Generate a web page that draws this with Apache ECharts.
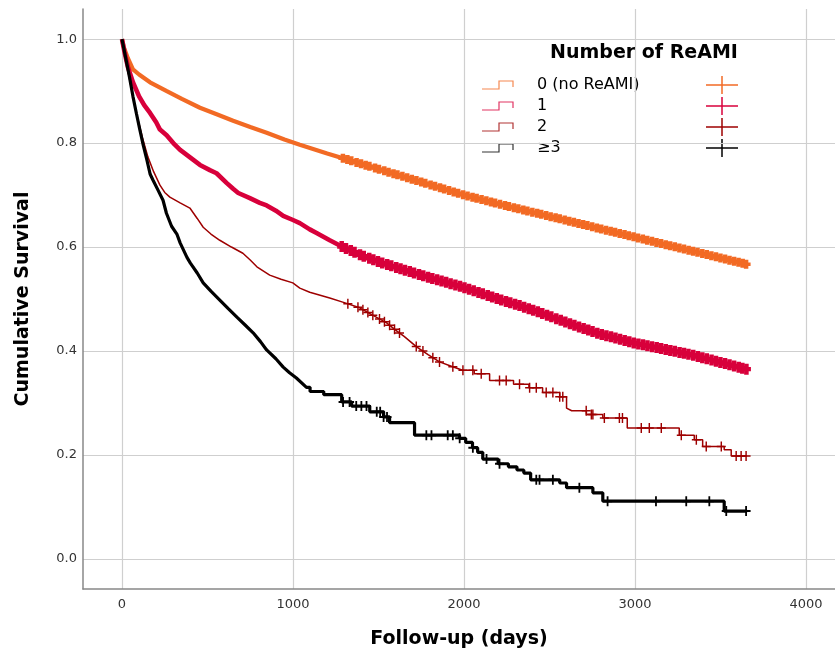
<!DOCTYPE html>
<html>
<head>
<meta charset="utf-8">
<title>Cumulative Survival by Number of ReAMI</title>
<script src="https://cdn.jsdelivr.net/npm/echarts@6/dist/echarts.min.js"></script>
<style>
  html, body { margin: 0; padding: 0; background: #fff; }
  #chart { width: 835px; height: 657px; }
</style>
</head>
<body>
<div id="chart"></div>
<script>
// tick labels
var xTicks = [0, 1000, 2000, 3000, 4000];
var yTicks = [0, 0.2, 0.4, 0.6, 0.8, 1.0];

var groupNames = ['0 (no ReAMI)', '1', '2', '\u22653'];

// curves are listed as vertices (repeated time = vertical drop)

// group 0 (no ReAMI)
var times0 = [0, 10, 35, 64, 100, 164, 262, 350, 456, 550, 650, 750, 846, 950, 1040, 1200, 1400, 1600, 1800, 2000, 2200, 2400, 2600, 2800, 3000, 3200, 3400, 3650];
var surv0  = [1.0, 0.985, 0.963, 0.942, 0.932, 0.917, 0.900, 0.885, 0.868, 0.856, 0.843, 0.831, 0.820, 0.807, 0.797, 0.780, 0.760, 0.740, 0.720, 0.700, 0.683, 0.667, 0.651, 0.635, 0.619, 0.603, 0.587, 0.567];
var cens0  = [1292, 1318, 1341, 1372, 1398, 1425, 1447, 1480, 1503, 1534, 1559, 1588, 1611, 1640, 1668, 1695, 1722, 1750, 1774, 1805, 1831, 1860, 1884, 1913, 1940, 1966, 1995, 2021, 2050, 2074, 2103, 2131, 2158, 2182, 2211, 2240, 2263, 2292, 2318, 2347, 2371, 2400, 2428, 2452, 2481, 2507, 2536, 2560, 2589, 2616, 2643, 2670, 2697, 2722, 2750, 2777, 2803, 2831, 2858, 2884, 2911, 2939, 2964, 2992, 3018, 3046, 3072, 3100, 3126, 3153, 3180, 3206, 3233, 3260, 3287, 3314, 3340, 3366, 3394, 3420, 3447, 3474, 3500, 3527, 3553, 3580, 3606, 3630, 3650];

// group 1
var times1 = [0, 15, 35, 64, 100, 130, 164, 200, 222, 261, 300, 340, 400, 456, 514, 553, 613, 650, 680, 748, 806, 846, 900, 943, 1000, 1040, 1098, 1138, 1215, 1291, 1333, 1400, 1525, 1650, 1800, 1992, 2100, 2200, 2300, 2401, 2558, 2675, 2800, 2900, 2997, 3150, 3337, 3500, 3650];
var surv1  = [1.0, 0.975, 0.946, 0.917, 0.890, 0.873, 0.858, 0.840, 0.826, 0.815, 0.800, 0.787, 0.772, 0.758, 0.748, 0.742, 0.723, 0.712, 0.704, 0.694, 0.685, 0.680, 0.670, 0.660, 0.652, 0.646, 0.634, 0.627, 0.613, 0.600, 0.594, 0.584, 0.569, 0.556, 0.541, 0.523, 0.511, 0.500, 0.490, 0.479, 0.460, 0.446, 0.432, 0.424, 0.415, 0.405, 0.392, 0.378, 0.365];
var cens1  = [1285, 1310, 1338, 1360, 1392, 1414, 1446, 1470, 1497, 1522, 1551, 1575, 1604, 1629, 1655, 1683, 1708, 1737, 1762, 1790, 1815, 1843, 1869, 1896, 1922, 1950, 1977, 2003, 2030, 2057, 2085, 2110, 2139, 2165, 2192, 2218, 2246, 2271, 2299, 2325, 2352, 2379, 2405, 2432, 2458, 2486, 2511, 2540, 2566, 2593, 2620, 2646, 2673, 2700, 2727, 2752, 2780, 2806, 2833, 2860, 2886, 2913, 2940, 2967, 2993, 3020, 3047, 3073, 3100, 3127, 3153, 3180, 3207, 3233, 3261, 3287, 3313, 3341, 3368, 3394, 3420, 3448, 3474, 3500, 3527, 3553, 3580, 3607, 3628, 3652];

// group 2
var times2 = [0, 20, 40, 64, 90, 120, 152, 185, 222, 250, 280, 340, 397, 440, 475, 520, 572, 640, 707, 750, 789, 864, 930, 999, 1040, 1098, 1215, 1291, 1390, 1460, 1548, 1600, 1650, 1723, 1790, 1857, 1930, 1992,
              2060, 2060, 2150, 2150, 2290, 2290, 2380, 2380, 2460, 2460, 2560, 2560, 2600, 2600, 2630, 2716, 2716, 2812, 2812, 2955, 2955, 3259, 3259, 3347, 3347, 3396, 3396, 3522, 3522, 3563, 3563, 3656];
var surv2  = [1.0, 0.965, 0.930, 0.890, 0.850, 0.810, 0.773, 0.745, 0.719, 0.705, 0.696, 0.685, 0.675, 0.655, 0.638, 0.625, 0.613, 0.600, 0.588, 0.575, 0.562, 0.546, 0.538, 0.531, 0.521, 0.513, 0.502, 0.494, 0.483, 0.470, 0.454, 0.440, 0.428, 0.408, 0.393, 0.379, 0.370, 0.363,
              0.363, 0.356, 0.356, 0.343, 0.343, 0.336, 0.336, 0.329, 0.329, 0.320, 0.320, 0.312, 0.312, 0.290, 0.285, 0.285, 0.278, 0.278, 0.271, 0.271, 0.252, 0.252, 0.238, 0.238, 0.229, 0.229, 0.216, 0.216, 0.210, 0.210, 0.198, 0.198];
var cens2  = [1321, 1380, 1409, 1438, 1467, 1506, 1535, 1565, 1594, 1623, 1721, 1760, 1818, 1857, 1935, 1994, 2052, 2101, 2208, 2247, 2325, 2384, 2423, 2481, 2520, 2560, 2578, 2715, 2745, 2754, 2821, 2909, 2927, 3037, 3084, 3154, 3271, 3359, 3417, 3505, 3592, 3621, 3650];

// group >=3
var times3 = [0, 15, 30, 45, 64, 85, 105, 125, 146, 165, 181, 210, 240, 260, 290, 321, 340, 380, 400, 440, 475, 520, 572, 620, 672, 720, 767, 810, 846, 900, 943, 980, 1020, 1079,
              1100, 1100, 1180, 1180, 1285, 1285, 1343, 1343, 1449, 1449, 1530, 1530, 1565, 1565, 1711, 1711, 1974, 1974, 2010, 2010, 2050, 2050, 2080, 2080, 2110, 2110, 2200, 2200, 2260, 2260, 2310, 2310, 2350, 2350, 2390, 2390, 2560, 2560, 2600, 2600, 2754, 2754, 2812, 2812, 3522, 3522, 3656];
var surv3  = [1.0, 0.975, 0.950, 0.925, 0.890, 0.856, 0.825, 0.795, 0.767, 0.740, 0.729, 0.710, 0.690, 0.665, 0.640, 0.625, 0.608, 0.580, 0.569, 0.550, 0.531, 0.515, 0.498, 0.482, 0.465, 0.450, 0.435, 0.418, 0.402, 0.385, 0.369, 0.358, 0.348, 0.330,
              0.330, 0.322, 0.322, 0.316, 0.316, 0.302, 0.302, 0.294, 0.294, 0.283, 0.283, 0.273, 0.273, 0.262, 0.262, 0.238, 0.238, 0.232, 0.232, 0.224, 0.224, 0.214, 0.214, 0.205, 0.205, 0.192, 0.192, 0.183, 0.183, 0.177, 0.177, 0.171, 0.171, 0.165, 0.165, 0.152, 0.152, 0.146, 0.146, 0.137, 0.137, 0.127, 0.127, 0.111, 0.111, 0.092, 0.092];
var cens3  = [1293, 1331, 1370, 1400, 1430, 1490, 1510, 1530, 1550, 1780, 1810, 1905, 1935, 1975, 2052, 2132, 2208, 2423, 2442, 2520, 2675, 2840, 3123, 3300, 3435, 3534, 3650];

var colors = ['#F26A24', '#D8003B', '#9E0000', '#000000'];
var lineWidths = [4.2, 4.6, 1.5, 3.2];

var fontFamily = '"DejaVu Sans", "Lucida Grande", sans-serif';

var groups = [
  { times: times0, surv: surv0, cens: cens0 },
  { times: times1, surv: surv1, cens: cens1 },
  { times: times2, surv: surv2, cens: cens2 },
  { times: times3, surv: surv3, cens: cens3 }
];

// height of the drawn curve at time t, so the censor mark sits on it
function survAt(g, t) {
  var ts = g.times, ss = g.surv;
  for (var i = ts.length - 1; i >= 0; i--) {
    if (ts[i] <= t) {
      if (i === ts.length - 1) return ss[i];
      var f = (t - ts[i]) / (ts[i + 1] - ts[i]);
      return ss[i] + f * (ss[i + 1] - ss[i]);
    }
  }
  return ss[0];
}

// plus signs for censored cases (dense groups get chunky ones so they merge into a band)
var plusDense = 'path://M0,3H10V7H0Z M2.5,0H7.5V10H2.5Z';
var plusThin = 'path://M0,4.25H10V5.75H0Z M4.2,0H5.8V10H4.2Z';
var plusBold = 'path://M0,4H10V6H0Z M4,0H6V10H4Z';
var markSymbols = [plusDense, plusDense, plusThin, plusBold];
var markSizes = [[9, 9], [9, 11], [9, 10], [9, 10]];

var series = [];
groups.forEach(function (g, k) {
  series.push({
    name: groupNames[k],
    type: 'line',
    showSymbol: false,
    symbol: 'none',
    data: g.times.map(function (t, i) { return [t, g.surv[i]]; }),
    lineStyle: { color: colors[k], width: lineWidths[k] },
    z: 2 + k * 2
  });
  series.push({
    name: groupNames[k] + ' censored',
    type: 'scatter',
    symbol: markSymbols[k],
    symbolSize: markSizes[k],
    itemStyle: { color: colors[k], opacity: 1 },
    data: g.cens.map(function (t) { return [t, survAt(g, t)]; }),
    z: 3 + k * 2
  });
});

// legend: white box with step icon, label and cross per group
var legendItems = [
  {
    type: 'rect',
    shape: { x: 482, y: 33, width: 323, height: 132 },
    style: { fill: '#ffffff' }
  },
  {
    type: 'text',
    x: 644, y: 53,
    style: {
      text: 'Number of ReAMI', fill: '#000',
      fontSize: 19, fontWeight: 'bold', fontFamily: fontFamily,
      align: 'center', verticalAlign: 'middle'
    }
  }
];
groupNames.forEach(function (name, k) {
  var cy = 85 + k * 21;
  legendItems.push({
    type: 'polyline',
    shape: { points: [[482, cy + 4], [499, cy + 4], [499, cy - 4], [513, cy - 4], [513, cy + 2]] },
    style: { stroke: colors[k], lineWidth: 1.2, fill: null, opacity: 0.8 }
  });
  legendItems.push({
    type: 'text',
    x: 537, y: cy,
    style: {
      text: name, fill: '#000', fontSize: 16, fontFamily: fontFamily,
      verticalAlign: 'middle'
    }
  });
  legendItems.push({
    type: 'polyline',
    shape: { points: [[706, cy], [738, cy]] },
    style: { stroke: colors[k], lineWidth: 1.5, fill: null }
  });
  legendItems.push({
    type: 'polyline',
    shape: { points: [[722, cy - 9], [722, cy + 9]] },
    style: { stroke: colors[k], lineWidth: 1.5, fill: null }
  });
});

var chart = echarts.init(document.getElementById('chart'));
chart.setOption({
  animation: false,
  backgroundColor: '#fff',
  grid: { left: 83, right: 0, top: 9, bottom: 68 },
  xAxis: {
    type: 'value',
    min: -228,
    max: 4170,
    name: 'Follow-up (days)',
    nameLocation: 'middle',
    nameGap: 41,
    nameTextStyle: { color: '#000', fontSize: 19, fontWeight: 'bold', fontFamily: fontFamily },
    axisLine: { show: true, onZero: false, lineStyle: { color: '#888', width: 1.5 } },
    axisTick: { show: false, customValues: xTicks },
    axisLabel: {
      customValues: xTicks, color: '#333', fontSize: 13, margin: 9, fontFamily: fontFamily,
      formatter: function (v) { return String(v); }
    },
    splitLine: { show: true, lineStyle: { color: '#cfcfcf', width: 1.2 } }
  },
  yAxis: {
    type: 'value',
    min: -0.058,
    max: 1.058,
    name: 'Cumulative Survival',
    nameLocation: 'middle',
    nameGap: 50,
    nameTextStyle: { color: '#000', fontSize: 19, fontWeight: 'bold', fontFamily: fontFamily },
    axisLine: { show: true, onZero: false, lineStyle: { color: '#888', width: 1.5 } },
    axisTick: { show: false, customValues: yTicks },
    axisLabel: {
      customValues: yTicks, color: '#333', fontSize: 13, margin: 6, fontFamily: fontFamily,
      formatter: function (v) { return v.toFixed(1); }
    },
    splitLine: { show: true, lineStyle: { color: '#cfcfcf', width: 1.2 } }
  },
  series: series,
  graphic: { elements: legendItems }
});
</script>
</body>
</html>
